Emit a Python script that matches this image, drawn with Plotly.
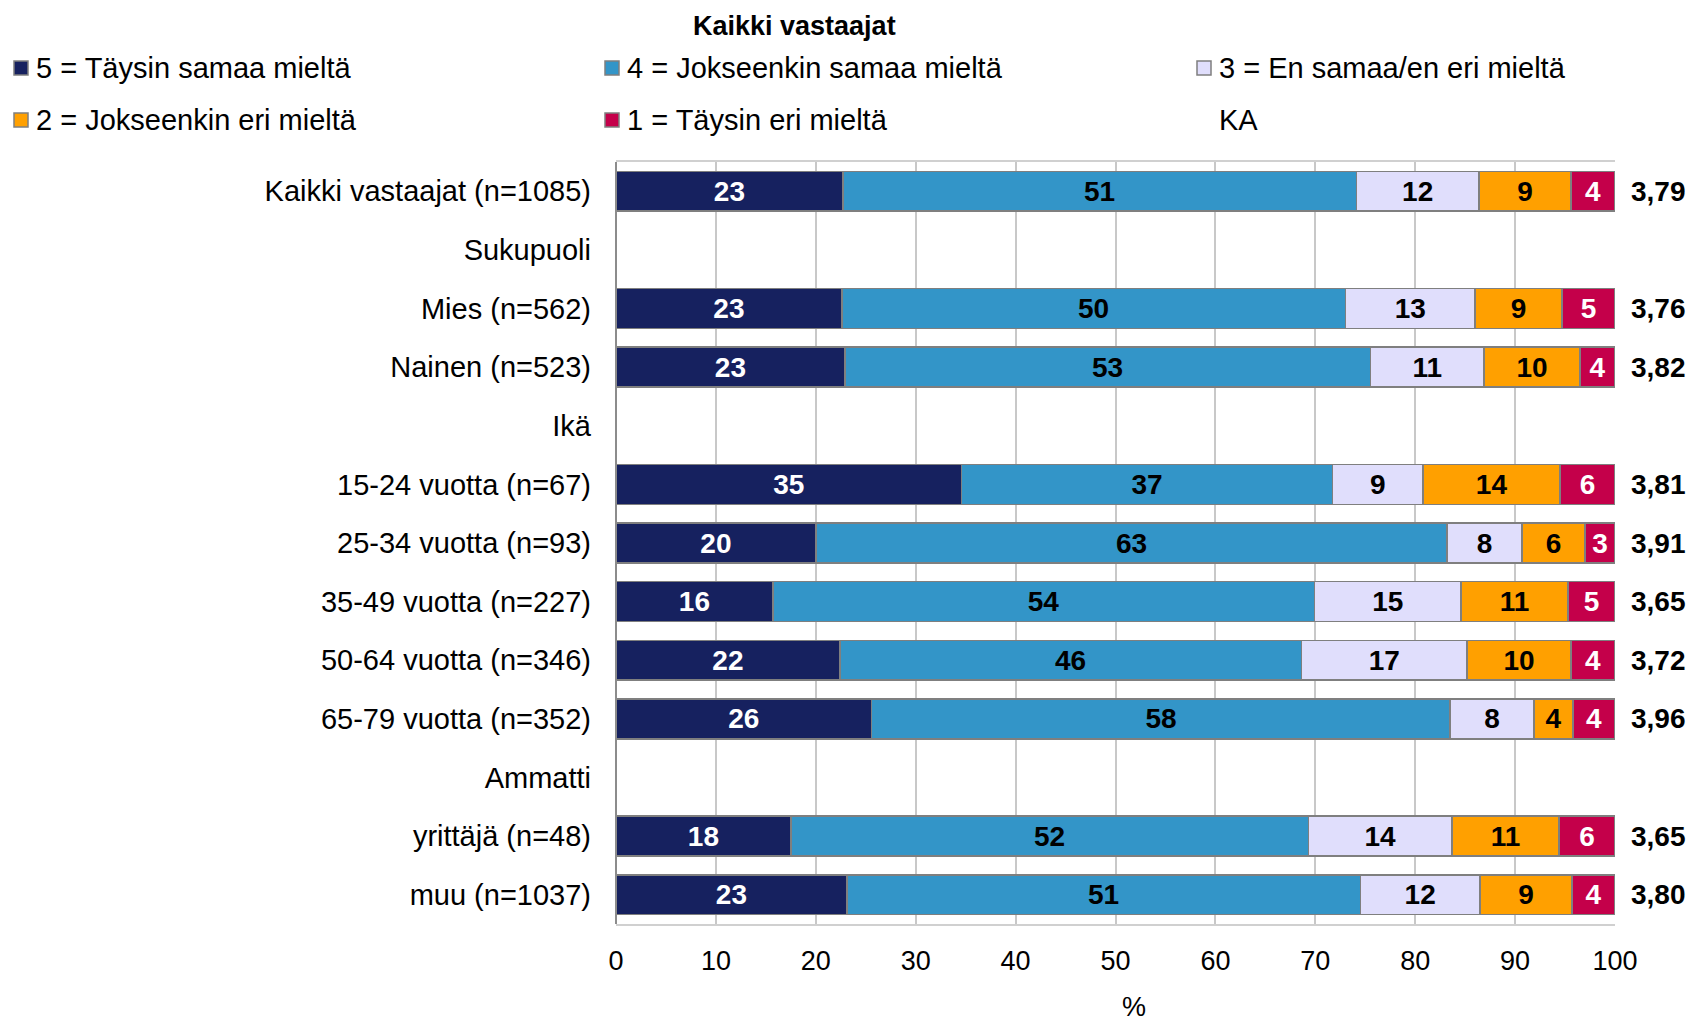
import math
import plotly.graph_objects as go

# ---------------- data ----------------
categories = ["Kaikki vastaajat (n=1085)", "Sukupuoli", "Mies (n=562)", "Nainen (n=523)", "Ikä",
              "15-24 vuotta (n=67)", "25-34 vuotta (n=93)", "35-49 vuotta (n=227)",
              "50-64 vuotta (n=346)", "65-79 vuotta (n=352)", "Ammatti",
              "yrittäjä (n=48)", "muu (n=1037)"]
s5 = [22.7, None, 22.6, 22.9, None, 34.6, 20.0, 15.7, 22.4, 25.6, None, 17.5, 23.1]
s4 = [51.4, None, 50.4, 52.6, None, 37.1, 63.2, 54.2, 46.2, 57.9, None, 51.8, 51.4]
s3 = [12.3, None, 13.0, 11.4, None, 9.1, 7.5, 14.7, 16.6, 8.4, None, 14.4, 12.0]
s2 = [9.2, None, 8.7, 9.6, None, 13.7, 6.3, 10.7, 10.4, 3.9, None, 10.7, 9.2]
s1 = [4.4, None, 5.3, 3.5, None, 5.5, 3.0, 4.7, 4.4, 4.2, None, 5.6, 4.3]
ka = [3.79, None, 3.76, 3.82, None, 3.81, 3.91, 3.65, 3.72, 3.96, None, 3.65, 3.80]

series_names = ["5 = Täysin samaa mieltä", "4 = Jokseenkin samaa mieltä", "3 = En samaa/en eri mieltä",
                "2 = Jokseenkin eri mieltä", "1 = Täysin eri mieltä"]
series_values = [s5, s4, s3, s2, s1]
colors = ["#16215F", "#3395C8", "#E0DEFC", "#FFA000", "#C4004A"]
text_colors = ["white", "black", "black", "black", "white"]
title_text = "Kaikki vastaajat"
xticks = [0, 10, 20, 30, 40, 50, 60, 70, 80, 90, 100]

# ---------------- layout geometry ----------------
W, H = 1708, 1021
L, R, T, B = 608, 1607, 154, 916
FONT = "Liberation Sans, Arial, sans-serif"
FS_CAT = 29
FS_LEG = 29
FS_BAR = 28
FS_TICK = 27


def px(x):
    return (x - L) / (R - L)


def py(y):
    return (B - y) / (B - T)


def lab(v):
    if v is None:
        return ""
    return "<b>%d</b>" % math.floor(v + 0.5)


fig = go.Figure()
for name, vals, col, tcol in zip(series_names, series_values, colors, text_colors):
    fig.add_trace(go.Bar(
        y=categories, x=vals, name=name, orientation="h",
        marker=dict(color=col, line=dict(color="#7F7F7F", width=1.5)),
        text=[lab(v) for v in vals], textposition="inside", insidetextanchor="middle",
        textangle=0, constraintext="none",
        textfont=dict(family=FONT, size=FS_BAR, color=tcol),
        showlegend=False, hoverinfo="x+y",
    ))

annotations = []
shapes = []
# KA values
for c, v in zip(categories, ka):
    if v is None:
        continue
    annotations.append(dict(x=1, xref="paper", y=c, yref="y", xanchor="left", xshift=14,
                            text="<b>" + ("%.2f" % v).replace(".", ",") + "</b>",
                            showarrow=False, font=dict(family=FONT, size=28, color="black")))

# Title
annotations.append(dict(x=px(786), y=py(18), xref="paper", yref="paper", xanchor="center",
                        yanchor="middle", text="<b>" + title_text + "</b>", showarrow=False,
                        font=dict(family=FONT, size=27, color="black")))
# x-axis title
annotations.append(dict(x=px(1126), y=py(999), xref="paper", yref="paper", xanchor="center",
                        yanchor="middle", text="%", showarrow=False,
                        font=dict(family=FONT, size=FS_TICK, color="black")))

# Manual legend (3 columns x 2 rows)
leg_cols = [6, 597, 1189]
leg_rows = [60, 112]
entries = list(zip(series_names, colors)) + [("KA", None)]
for i, (name, col) in enumerate(entries):
    cx = leg_cols[i % 3]
    cy = leg_rows[i // 3]
    if col is not None:
        shapes.append(dict(type="rect", xref="paper", yref="paper",
                           x0=px(cx), x1=px(cx + 14), y0=py(cy + 7), y1=py(cy - 7),
                           fillcolor=col, line=dict(color="#7F7F7F", width=1.5)))
    annotations.append(dict(x=px(cx + 20), y=py(cy), xref="paper", yref="paper",
                            xanchor="left", yanchor="middle", text=name, showarrow=False,
                            font=dict(family=FONT, size=FS_LEG, color="black")))

# left axis line
shapes.append(dict(type="line", xref="paper", yref="paper", x0=0, x1=0, y0=0, y1=1,
                   line=dict(color="#8C8C8C", width=2)))

fig.update_layout(
    width=W, height=H,
    margin=dict(l=L, r=W - R, t=T, b=H - B, pad=0),
    barmode="stack", bargap=0.32,
    plot_bgcolor="white", paper_bgcolor="white",
    font=dict(family=FONT, size=FS_CAT, color="black"),
    xaxis=dict(range=[0, 100], tickvals=xticks, showgrid=True, gridcolor="#C8C8C8", gridwidth=1.5,
               zeroline=False, showline=True, linecolor="#D0D0D0", linewidth=1.5, mirror=True,
               ticks="", ticklabelstandoff=12, tickfont=dict(family=FONT, size=FS_TICK, color="black"),
               fixedrange=True),
    yaxis=dict(type="category", categoryorder="array", categoryarray=categories,
               range=[len(categories) - 0.5, -0.5], showgrid=False, zeroline=False,
               showline=False, ticks="", ticklabelstandoff=24,
               tickfont=dict(family=FONT, size=FS_CAT, color="black"), fixedrange=True),
    annotations=annotations, shapes=shapes,
)

fig.write_html("out.html")
